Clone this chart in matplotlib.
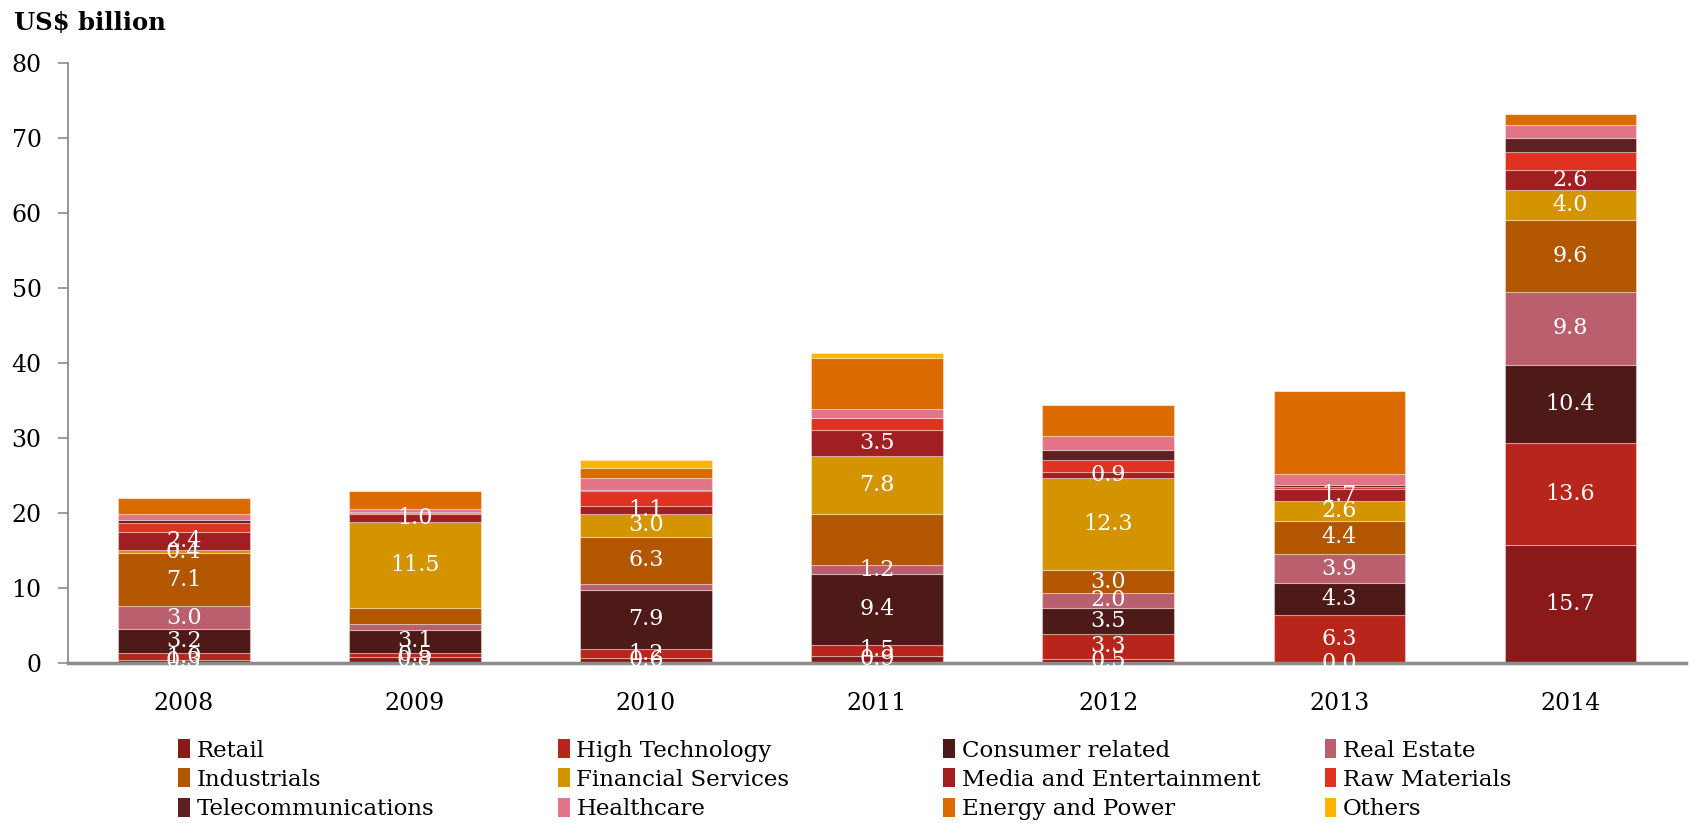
import numpy as np
import matplotlib
matplotlib.use('Agg')
import matplotlib.pyplot as plt
from matplotlib.patches import Patch

plt.rcParams['font.family'] = ['DejaVu Serif']

years = ['2008', '2009', '2010', '2011', '2012', '2013', '2014']

retail      = [0.3, 0.8, 0.6, 0.9, 0.5, 0.0, 15.7]
hitech      = [1.0, 0.5, 1.2, 1.5, 3.3, 6.3, 13.6]
consumer    = [3.2, 3.1, 7.9, 9.4, 3.5, 4.3, 10.4]
real_estate = [3.0, 0.8, 0.8, 1.2, 2.0, 3.9, 9.8]
industrials = [7.1, 2.1, 6.3, 6.8, 3.0, 4.4, 9.6]
financial   = [0.4, 11.5, 3.0, 7.8, 12.3, 2.6, 4.0]
media       = [2.4, 1.0, 1.1, 3.5, 0.9, 1.7, 2.6]
raw_mat     = [1.2, 0.2, 2.0, 1.5, 1.5, 0.3, 2.4]
telecom     = [0.4, 0.05, 0.2, 0.1, 1.4, 0.2, 1.9]
health      = [0.8, 0.5, 1.5, 1.1, 1.9, 1.5, 1.8]
energy      = [2.1, 2.3, 1.4, 6.8, 4.1, 11.1, 1.5]
others      = [0.0, 0.1, 1.0, 0.7, 0.0, 0.0, 0.0]

names = ['Retail', 'High Technology', 'Consumer related', 'Real Estate',
         'Industrials', 'Financial Services', 'Media and Entertainment',
         'Raw Materials', 'Telecommunications', 'Healthcare',
         'Energy and Power', 'Others']
series = [retail, hitech, consumer, real_estate, industrials, financial,
          media, raw_mat, telecom, health, energy, others]
colors = ['#8a1919', '#b8251a', '#4e1a18', '#ba5f6e', '#b35600', '#d39400',
          '#a11e22', '#e03220', '#5e2020', '#e17587', '#db6a00', '#ffb400']

# the first 7 sectors carry value labels, a few are missing in the original
n_labelled = 7
no_label = [(3, 1), (4, 1), (3, 2), (4, 3)]

fig = plt.figure(figsize=(16.89, 8.23), dpi=100)
ax = fig.add_axes([0.0403, 0.195, 0.958, 0.728])

x = np.arange(len(years))
bottom = np.zeros(len(years))
for i, (vals, c) in enumerate(zip(series, colors)):
    vals = np.array(vals)
    ax.bar(x, vals, 0.57, bottom=bottom, color=c,
           edgecolor=(1, 1, 1, 0.35), linewidth=0.8)
    if i < n_labelled:
        for j, v in enumerate(vals):
            if (i, j) in no_label:
                continue
            ax.text(x[j], bottom[j] + v / 2, f'{v:.1f}', ha='center',
                    va='center', color='white', fontsize=16)
    bottom += vals

ax.set_xlim(-0.5, 6.5)
ax.set_ylim(0, 80)
ax.set_yticks(range(0, 81, 10))
ax.set_xticks(x)
ax.set_xticklabels(years)
ax.tick_params(axis='y', labelsize=17, length=7, color='#8c8c8c', width=1.2, pad=12)
ax.tick_params(axis='x', labelsize=17, length=0, pad=21)
for s in ['top', 'right']:
    ax.spines[s].set_visible(False)
ax.spines['left'].set_color('#8c8c8c')
ax.spines['left'].set_linewidth(1.3)
ax.spines['bottom'].set_color('#8c8c8c')
ax.spines['bottom'].set_linewidth(2.5)

fig.text(0.008, 0.972, 'US$ billion', fontsize=17.5, fontweight='bold', va='center')

# legend: 4 columns x 3 rows, row-wise order
col_x = [0.100, 0.325, 0.553, 0.779]
for c in range(4):
    idx = [c + 4 * r for r in range(3)]
    handles = [Patch(facecolor=colors[k]) for k in idx]
    fig.legend(handles, [names[k] for k in idx], loc='upper left',
               bbox_to_anchor=(col_x[c], 0.113), frameon=False, fontsize=16.5,
               handlelength=0.5, handleheight=0.9, handletextpad=0.3,
               labelspacing=0.3, borderaxespad=0)

fig.savefig('out.png', dpi=100)
